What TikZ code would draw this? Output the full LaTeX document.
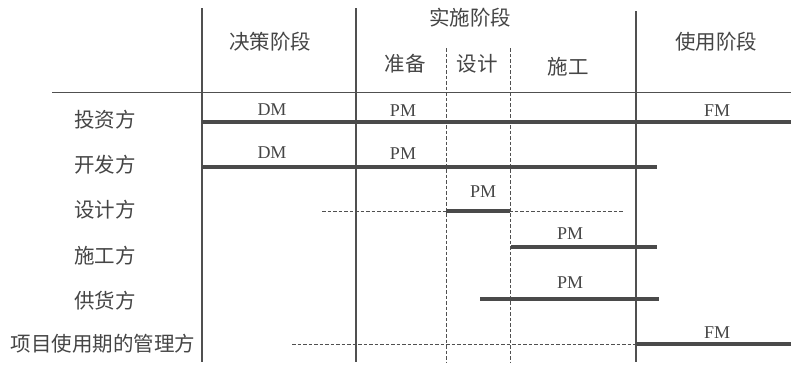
\documentclass[tikz,border=0pt]{standalone}
\usepackage{fontspec}
\setmainfont{Liberation Serif}
\newfontfamily\cjk{Noto Sans CJK SC}
\definecolor{txt}{HTML}{454545}
\definecolor{linec}{HTML}{505050}
\definecolor{barc}{HTML}{4A4A4A}
\begin{document}
\begin{tikzpicture}[x=1pt,y=-1pt,
  gridln/.style={draw=linec, line width=1.4pt},
  thinln/.style={draw=linec, line width=1pt},
  dashln/.style={draw=linec, line width=1pt, dash pattern=on 3.5pt off 2pt},
  barln/.style={draw=barc, line width=3.5pt},
  cn/.style={font=\cjk\fontsize{20.5}{20.5}\selectfont, text=txt, inner sep=0pt},
  lm/.style={font=\fontsize{18}{18}\selectfont, text=txt, inner sep=0pt}]
\useasboundingbox (0,0) rectangle (791,365);
% header texts
\node[cn] (h1) at (270,42) {决策阶段};
\node[cn] (h2) at (470,18) {实施阶段};
\node[cn] (h2a) at (405,64) {准备};
\node[cn] (h2b) at (477,64) {设计};
\node[cn] (h2c) at (568,67) {施工};
\node[cn] (h3) at (716,42) {使用阶段};
% row labels
\node[cn] (r1) at (105,120) {投资方};
\node[cn] (r2) at (105,165) {开发方};
\node[cn] (r3) at (105,210) {设计方};
\node[cn] (r4) at (105,256) {施工方};
\node[cn] (r5) at (105,301) {供货方};
\node[cn] (r6) at (103,344) {项目使用期的管理方};
% grid
\coordinate (hl) at (52,92); \coordinate (hr) at (791,92);
\draw[thinln] (hl) -- (hr);
\coordinate (v1t) at (202,8);  \coordinate (v1b) at (202,362);
\coordinate (v2t) at (356,8);  \coordinate (v2b) at (356,362);
\coordinate (v3t) at (636,11); \coordinate (v3b) at (636,362);
\draw[gridln] (v1t) -- (v1b);
\draw[gridln] (v2t) -- (v2b);
\draw[gridln] (v3t) -- (v3b);
\coordinate (d1t) at (446,48); \coordinate (d1b) at (446,362);
\coordinate (d2t) at (510,48); \coordinate (d2b) at (510,362);
\draw[dashln] (d1t) -- (d1b);
\draw[dashln] (d2t) -- (d2b);
% dashed horizontals
\coordinate (s3a) at (322,211); \coordinate (s3b) at (624,211);
\draw[dashln] (s3a) -- (s3b);
\coordinate (s6a) at (292,344); \coordinate (s6b) at (636,344);
\draw[dashln] (s6a) -- (s6b);
% bars
\coordinate (b1a) at (202,122); \coordinate (b1b) at (791,122);
\coordinate (b2a) at (202,167); \coordinate (b2b) at (657,167);
\coordinate (b3a) at (446,211); \coordinate (b3b) at (510,211);
\coordinate (b4a) at (511,247); \coordinate (b4b) at (657,247);
\coordinate (b5a) at (480,299); \coordinate (b5b) at (659,299);
\coordinate (b6a) at (636,344); \coordinate (b6b) at (791,344);
\draw[barln] (b1a) -- (b1b);
\draw[barln] (b2a) -- (b2b);
\draw[barln] (b3a) -- (b3b);
\draw[barln] (b4a) -- (b4b);
\draw[barln] (b5a) -- (b5b);
\draw[barln] (b6a) -- (b6b);
% bar labels
\node[lm] (l1a) at (272,110) {DM};
\node[lm] (l1b) at (403,111) {PM};
\node[lm] (l1c) at (717,111) {FM};
\node[lm] (l2a) at (272,153) {DM};
\node[lm] (l2b) at (403,154) {PM};
\node[lm] (l3) at (483,192) {PM};
\node[lm] (l4) at (570,234) {PM};
\node[lm] (l5) at (570,283) {PM};
\node[lm] (l6) at (717,333) {FM};
\end{tikzpicture}
\end{document}
